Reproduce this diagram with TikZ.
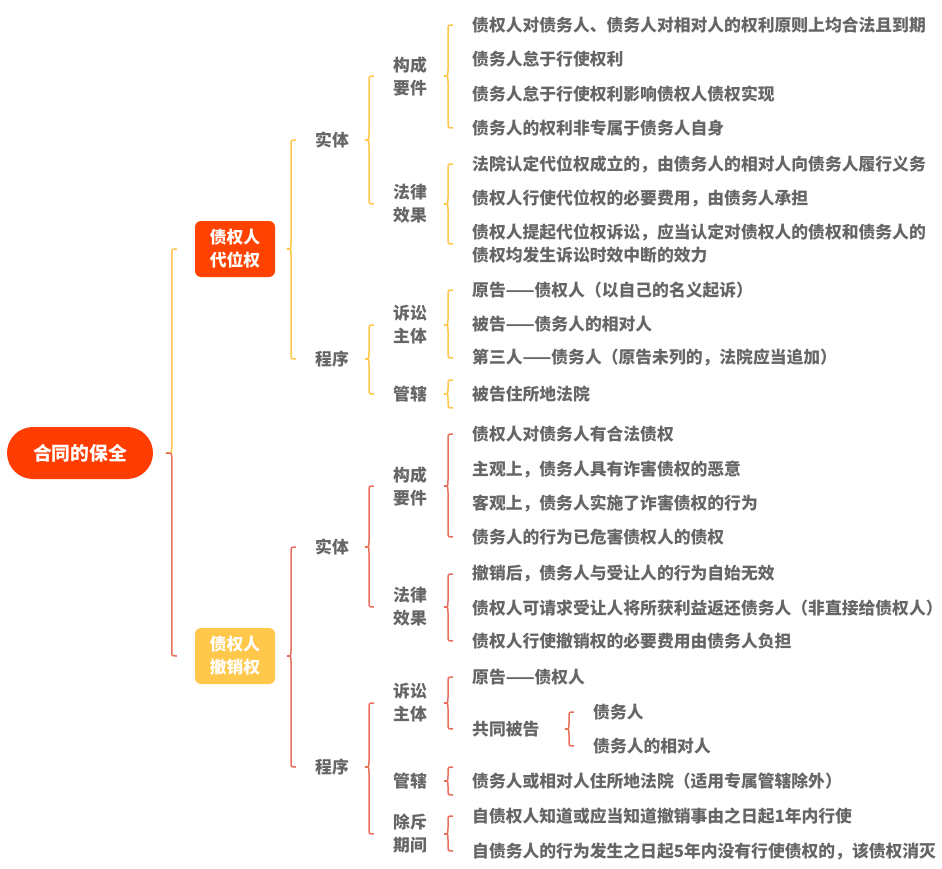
\documentclass[tikz,border=0pt]{standalone}
\usepackage{fontspec}
\setmainfont{Noto Sans CJK SC}
\usetikzlibrary{calc}
\definecolor{rootred}{RGB}{255, 61, 0}
\definecolor{boxred}{RGB}{255, 66, 0}
\definecolor{sunyellow}{RGB}{255, 200, 74}
\definecolor{linered}{RGB}{232, 112, 92}
\definecolor{textgray}{RGB}{102, 102, 102}

\tikzset{
  leaf/.style={anchor=west, inner sep=0pt, text=textgray, align=left,
    font=\fontsize{16.8}{23}\selectfont\bfseries},
  lbl/.style={leaf},
  rootnode/.style={fill=rootred, text=white, rounded corners=26pt, minimum width=146pt,
    minimum height=52pt, inner sep=0pt, font=\fontsize{18.8}{23}\selectfont\bfseries},
  rightbox/.style={text=white, rounded corners=6pt, minimum width=80pt, minimum height=56pt,
    inner sep=0pt, align=center, font=\fontsize{16.8}{23}\selectfont\bfseries},
  ybr/.style={draw=sunyellow, line width=1.5pt},
  rbr/.style={draw=linered, line width=1.5pt}
}

% bracket: style, parent, first child, last child
\newcommand{\grp}[4]{%
  \draw[#1] let \p1=(#2.east), \p2=(#3.west), \p3=(#4.west) in
    (\x2-19pt,\y2) .. controls (\x2-24pt,\y2) .. (\x2-24pt,\y2-5pt)
    -- (\x2-24pt,\y1+6pt) .. controls (\x2-24pt,\y1) .. (\x2-28pt,\y1)
    .. controls (\x2-24pt,\y1) .. (\x2-24pt,\y1-6pt)
    -- (\x2-24pt,\y3+5pt) .. controls (\x2-24pt,\y3) .. (\x2-19pt,\y3);}
% bracket with one child
\newcommand{\one}[3]{%
  \draw[#1] let \p1=(#2.east), \p2=(#3.west) in
    (\x2-19pt,\y1+14pt) .. controls (\x2-24pt,\y1+14pt) .. (\x2-24pt,\y1+9pt)
    -- (\x2-24pt,\y1+5pt) .. controls (\x2-24pt,\y1) .. (\x2-28pt,\y1)
    .. controls (\x2-24pt,\y1) .. (\x2-24pt,\y1-5pt)
    -- (\x2-24pt,\y1-9pt) .. controls (\x2-24pt,\y1-14pt) .. (\x2-19pt,\y1-14pt);}

\begin{document}
\begin{tikzpicture}[x=1pt, y=-1pt]
  \useasboundingbox (0,0) rectangle (942,869);

  % root and the two rights
  \node[rootnode] (root) at (80,453) {合同的保全};
  \node[rightbox, fill=boxred] (dw) at (235,249) {债权人\\代位权};
  \node[rightbox, fill=sunyellow] (cx) at (235,656) {债权人\\撤销权};

  \draw[ybr] let \p1=(root.east), \p2=(dw.west) in
    (\x2-18pt,\y2) .. controls (\x2-23pt,\y2) .. (\x2-23pt,\y2-5pt)
    -- (\x2-23pt,\y1+6pt) .. controls (\x2-23pt,\y1) .. (\x2-29pt,\y1);
  \draw[rbr] let \p1=(root.east), \p2=(cx.west) in
    (\x2-29pt,\y1) .. controls (\x2-23pt,\y1) .. (\x2-23pt,\y1-6pt)
    -- (\x2-23pt,\y2+5pt) .. controls (\x2-23pt,\y2) .. (\x2-18pt,\y2);

  % ---- 代位权 ----
  \node[lbl] (dwst) at (315,140) {实体};
  \node[lbl] (dwcx) at (315,359) {程序};
  \node[lbl] (dwgc) at (393,76) {构成\\要件};
  \node[lbl] (dwxg) at (393,204) {法律\\效果};
  \node[lbl] (dwss) at (393,325) {诉讼\\主体};
  \node[lbl] (dwgx) at (393,394) {管辖};

  \foreach \n/\y/\t in {1/25/{债权人对债务人、债务人对相对人的权利原则上均合法且到期},
      2/59/{债务人怠于行使权利}, 3/94/{债务人怠于行使权利影响债权人债权实现},
      4/128/{债务人的权利非专属于债务人自身}}
    \node[leaf] (dwa\n) at (472,\y) {\t};
  \foreach \n/\y/\t in {1/164/{法院认定代位权成立的，由债务人的相对人向债务人履行义务},
      2/198/{债权人行使代位权的必要费用，由债务人承担},
      3/244/{债权人提起代位权诉讼，应当认定对债权人的债权和债务人的\\债权均发生诉讼时效中断的效力}}
    \node[leaf] (dwb\n) at (472,\y) {\t};
  \foreach \n/\y/\t in {1/290/{原告——债权人（以自己的名义起诉）},
      2/324/{被告——债务人的相对人},
      3/358/{第三人——债务人（原告未列的，法院应当追加）}}
    \node[leaf] (dwc\n) at (472,\y) {\t};
  \node[leaf] (dwd1) at (472,394) {被告住所地法院};

  \grp{ybr}{dw}{dwst}{dwcx}
  \grp{ybr}{dwst}{dwgc}{dwxg}
  \grp{ybr}{dwcx}{dwss}{dwgx}
  \grp{ybr}{dwgc}{dwa1}{dwa4}
  \grp{ybr}{dwxg}{dwb1}{dwb3}
  \grp{ybr}{dwss}{dwc1}{dwc3}
  \one{ybr}{dwgx}{dwd1}

  % ---- 撤销权 ----
  \node[lbl] (cxst) at (315,547) {实体};
  \node[lbl] (cxcx) at (315,767) {程序};
  \node[lbl] (cxgc) at (393,486) {构成\\要件};
  \node[lbl] (cxxg) at (393,607) {法律\\效果};
  \node[lbl] (cxss) at (393,703) {诉讼\\主体};
  \node[lbl] (cxgx) at (393,781) {管辖};
  \node[lbl] (cxcq) at (393,834) {除斥\\期间};

  \foreach \n/\y/\t in {1/434/{债权人对债务人有合法债权},
      2/469/{主观上，债务人具有诈害债权的恶意},
      3/503/{客观上，债务人实施了诈害债权的行为},
      4/537/{债务人的行为已危害债权人的债权}}
    \node[leaf] (cxa\n) at (472,\y) {\t};
  \foreach \n/\y/\t in {1/574/{撤销后，债务人与受让人的行为自始无效},
      2/608/{债权人可请求受让人将所获利益返还债务人（非直接给债权人）},
      3/641/{债权人行使撤销权的必要费用由债务人负担}}
    \node[leaf] (cxb\n) at (472,\y) {\t};
  \node[leaf] (cxc1) at (472,677) {原告——债权人};
  \node[leaf] (cxc2) at (472,729) {共同被告};
  \node[leaf] (cxe1) at (593,712) {债务人};
  \node[leaf] (cxe2) at (593,746) {债务人的相对人};
  \node[leaf] (cxd1) at (472,781) {债务人或相对人住所地法院（适用专属管辖除外）};
  \node[leaf] (cxf1) at (472,816) {自债权人知道或应当知道撤销事由之日起1年内行使};
  \node[leaf] (cxf2) at (472,851) {自债务人的行为发生之日起5年内没有行使债权的，该债权消灭};

  \grp{rbr}{cx}{cxst}{cxcx}
  \grp{rbr}{cxst}{cxgc}{cxxg}
  \grp{rbr}{cxcx}{cxss}{cxcq}
  \grp{rbr}{cxgc}{cxa1}{cxa4}
  \grp{rbr}{cxxg}{cxb1}{cxb3}
  \grp{rbr}{cxss}{cxc1}{cxc2}
  \grp{rbr}{cxc2}{cxe1}{cxe2}
  \one{rbr}{cxgx}{cxd1}
  \grp{rbr}{cxcq}{cxf1}{cxf2}
\end{tikzpicture}
\end{document}
